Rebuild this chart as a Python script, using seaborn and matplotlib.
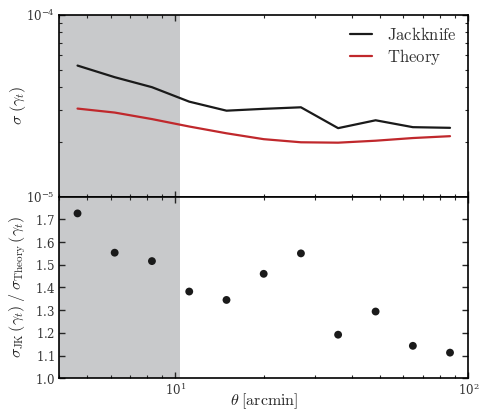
import numpy as np
import pandas as pd
import matplotlib
matplotlib.use("Agg")
import matplotlib.pyplot as plt
import seaborn as sns
from matplotlib.ticker import LogLocator, NullFormatter

# Angular bin centres [arcmin]
theta = [4.63, 6.20, 8.31, 11.14, 14.93, 20.0, 26.8, 35.9, 48.2, 64.6, 86.5]
# Standard deviation of tangential shear
sigma_jk = [5.26e-5, 4.54e-5, 4.00e-5, 3.33e-5, 2.97e-5, 3.04e-5, 3.10e-5,
            2.38e-5, 2.63e-5, 2.41e-5, 2.39e-5]
sigma_theory = [3.05e-5, 2.90e-5, 2.67e-5, 2.43e-5, 2.23e-5, 2.07e-5, 1.99e-5,
                1.98e-5, 2.03e-5, 2.10e-5, 2.15e-5]
# Jackknife / theory ratio
ratio = [1.726, 1.553, 1.516, 1.382, 1.345, 1.460, 1.550, 1.192, 1.294,
         1.143, 1.113]
ratio_ticks = [1.0, 1.1, 1.2, 1.3, 1.4, 1.5, 1.6, 1.7]
scale_cut = 10.4

sns.set_style("ticks")
plt.rcParams.update({
    "mathtext.fontset": "cm",
    "font.family": ["DejaVu Serif"],
    "axes.formatter.use_mathtext": True,
    "axes.edgecolor": "black",
    "axes.linewidth": 1.2,
    "xtick.direction": "in",
    "ytick.direction": "in",
    "xtick.top": True,
    "ytick.right": True,
    "text.color": "#333333",
    "xtick.labelcolor": "#333333",
    "ytick.labelcolor": "#333333",
})

df = pd.DataFrame({"theta": theta, "jk": sigma_jk, "th": sigma_theory, "ratio": ratio})

fig = plt.figure(figsize=(4.79, 4.13), dpi=100)
gs = fig.add_gridspec(2, 1, hspace=0, left=0.123, right=0.978, top=0.964, bottom=0.084)
ax1 = fig.add_subplot(gs[0])
ax2 = fig.add_subplot(gs[1], sharex=ax1)

shade = "#c8c9cb"
for ax in (ax1, ax2):
    ax.axvspan(4.0, scale_cut, color=shade, lw=0, zorder=0)

sns.lineplot(data=df, x="theta", y="jk", ax=ax1, color="#1a1a1a", lw=1.6,
             label=r"$\mathrm{Jackknife}$")
sns.lineplot(data=df, x="theta", y="th", ax=ax1, color="#c0282c", lw=1.6,
             label=r"$\mathrm{Theory}$")
sns.scatterplot(data=df, x="theta", y="ratio", ax=ax2, color="#1a1a1a", s=32,
                edgecolor="none", zorder=3)

ax1.set_xscale("log")
ax1.set_xlim(4.0, 100)
ax1.set_yscale("log")
ax1.set_ylim(1e-5, 1e-4)
ax1.yaxis.set_major_locator(LogLocator(base=10, numticks=5))
ax1.yaxis.set_minor_locator(LogLocator(base=10, subs=np.arange(2, 10), numticks=10))
ax1.yaxis.set_minor_formatter(NullFormatter())
ax1.set_ylabel(r"$\sigma\;(\gamma_t)$", fontsize=11.5, va="center")
ax1.yaxis.set_label_coords(-0.10, 0.5)
ax1.set_xlabel("")
plt.setp(ax1.get_xticklabels(), visible=False)

ax2.set_ylim(1.0, 1.8)
ax2.set_yticks(ratio_ticks)
ax2.set_ylabel(r"$\sigma_{\rm JK}\,(\gamma_t)\;/\;\sigma_{\rm Theory}\,(\gamma_t)$",
               fontsize=11.5, va="center")
ax2.yaxis.set_label_coords(-0.10, 0.5)
ax2.set_xlabel(r"$\theta\;[\mathrm{arcmin}]$", fontsize=11.5)
ax2.xaxis.set_label_coords(0.5, -0.072)

for ax in (ax1, ax2):
    ax.xaxis.set_minor_locator(LogLocator(base=10, subs=np.arange(2, 10), numticks=10))
    ax.xaxis.set_minor_formatter(NullFormatter())
    ax.tick_params(which="major", length=4, width=1.0, labelsize=8.5, pad=3)
    ax.tick_params(which="minor", length=2.5, width=0.8)

leg = ax1.legend(loc="upper right", frameon=False, fontsize=12, handlelength=1.3,
                 handletextpad=0.9, borderaxespad=0.3, labelspacing=0.2)
for t in leg.get_texts():
    t.set_color("#333333")

fig.savefig("out.png", dpi=100)
